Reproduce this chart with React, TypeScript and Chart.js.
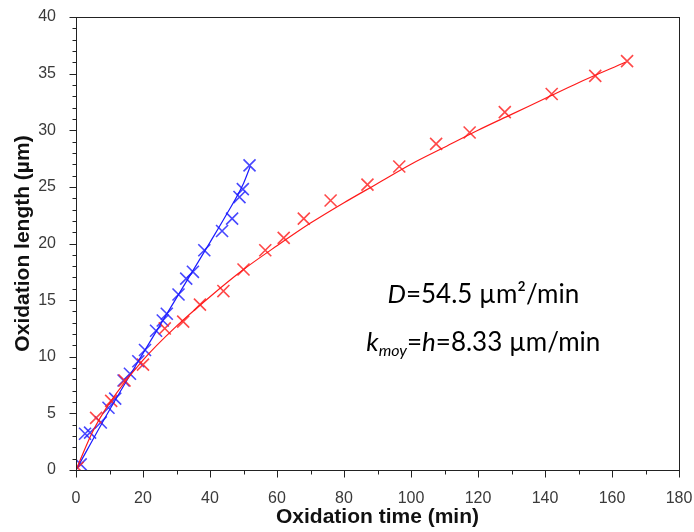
import React, { useEffect, useRef } from "react";
import { Chart, registerables } from "chart.js";

Chart.register(...registerables);

// Red series (measured points)
const redTime = [0.5, 6, 10.5, 14.5, 20, 26.5, 32, 37, 44, 50, 56.5, 62, 68, 76, 87, 96.5, 107.5, 117.5, 128, 142, 155, 164.5];
const redLength = [0.2, 4.6, 6.1, 7.9, 9.3, 12.5, 13.1, 14.6, 15.8, 17.7, 19.4, 20.5, 22.2, 23.8, 25.2, 26.8, 28.8, 29.8, 31.6, 33.2, 34.8, 36.1];

// Red fitted curve
const redFitTime = [0, 5, 10, 20, 30, 40, 50, 60, 70, 80, 90, 100, 110, 120, 130, 140, 150, 164];
const redFitLength = [0, 3.4, 5.9, 9.7, 12.7, 15.3, 17.7, 19.8, 21.8, 23.6, 25.3, 27.0, 28.5, 30.0, 31.4, 32.8, 34.2, 36.0];

// Blue series (measured points)
const blueTime = [1.4, 2.7, 4.2, 7.4, 9.7, 11.7, 14.2, 16.1, 18.6, 20.6, 23.9, 25.9, 27.1, 30.6, 32.9, 34.9, 38.3, 43.6, 46.6, 48.8, 49.8, 51.8];
const blueLength = [0.5, 3.2, 3.3, 4.2, 5.5, 6.3, 7.9, 8.5, 9.6, 10.6, 12.3, 13.2, 13.8, 15.5, 16.9, 17.5, 19.4, 21.1, 22.2, 24.1, 24.8, 26.9];

// Blue fitted line
const blueFitTime = [0, 10, 20, 30, 40, 45, 50, 52];
const blueFitLength = [0, 5.3, 10.3, 15.2, 20.1, 22.6, 25.3, 26.8];

// Axis ticks
const xTickValues = [0, 20, 40, 60, 80, 100, 120, 140, 160, 180];
const yTickValues = [0, 5, 10, 15, 20, 25, 30, 35, 40];
const xMinorStep = 10;
const yMinorStep = 1;

const xTitle = "Oxidation time (min)";
const yTitle = "Oxidation length (µm)";

const toXY = (xs: number[], ys: number[]) => xs.map((x, i) => ({ x, y: ys[i] }));

const framePlugin = {
  id: "frameTicks",
  afterDraw(chart: any) {
    const { ctx, chartArea } = chart;
    const xs = chart.scales.x;
    const ys = chart.scales.y;
    const L = Math.round(chartArea.left) + 0.5;
    const T = Math.round(chartArea.top) + 0.5;
    const R = Math.round(chartArea.right) + 0.5;
    const B = Math.round(chartArea.bottom) + 0.5;
    ctx.save();
    ctx.strokeStyle = "#222";
    ctx.lineWidth = 1;
    ctx.strokeRect(L, T, R - L, B - T);
    ctx.beginPath();
    const yMax = yTickValues[yTickValues.length - 1];
    for (let v = yTickValues[0]; v <= yMax + 1e-9; v += yMinorStep) {
      const major = yTickValues.includes(v);
      const py = Math.round(ys.getPixelForValue(v)) + 0.5;
      const len = major ? 7 : 4;
      ctx.moveTo(L, py);
      ctx.lineTo(L - len, py);
    }
    const xMax = xTickValues[xTickValues.length - 1];
    for (let v = xTickValues[0]; v <= xMax + 1e-9; v += xMinorStep) {
      const major = xTickValues.includes(v);
      const px = Math.round(xs.getPixelForValue(v)) + 0.5;
      const len = major ? 7 : 4;
      ctx.moveTo(px, B);
      ctx.lineTo(px, B + len);
    }
    ctx.stroke();
    ctx.restore();
  },
};

const annotationPlugin = {
  id: "annot",
  afterDraw(chart: any) {
    const { ctx } = chart;
    const xs = chart.scales.x;
    const ys = chart.scales.y;
    const cx = xs.getPixelForValue(121.6);
    const y1 = ys.getPixelForValue(14.75);
    const y2 = ys.getPixelForValue(10.5);
    const fam = "Lato, 'Noto Sans', sans-serif";
    const size = 26;
    ctx.save();
    ctx.fillStyle = "#000";
    ctx.textBaseline = "alphabetic";
    ctx.textAlign = "left";

    const drawSegs = (segs: { t: string; f: string; dy?: number }[], baseY: number) => {
      let total = 0;
      for (const s of segs) {
        ctx.font = s.f;
        total += ctx.measureText(s.t).width;
      }
      let x = cx - total / 2;
      for (const s of segs) {
        ctx.font = s.f;
        ctx.fillText(s.t, x, baseY + (s.dy || 0));
        x += ctx.measureText(s.t).width;
      }
    };

    const it = `italic ${size}px ${fam}`;
    const nm = `${size}px ${fam}`;
    const sub = `italic ${Math.round(size * 0.62)}px ${fam}`;
    drawSegs(
      [
        { t: "D", f: it },
        { t: "=54.5 µm²/min", f: nm },
      ],
      y1
    );
    drawSegs(
      [
        { t: "k", f: it },
        { t: "moy", f: sub, dy: 5 },
        { t: "=", f: nm },
        { t: "h", f: it },
        { t: "=8.33 µm/min", f: nm },
      ],
      y2
    );
    ctx.restore();
  },
};

export default function App() {
  const ref = useRef<HTMLCanvasElement | null>(null);
  useEffect(() => {
    if (!ref.current) return;
    const tickFont = { family: "'Liberation Sans', Arial, sans-serif", size: 16 };
    const titleFont = { family: "'Liberation Sans', Arial, sans-serif", size: 21, weight: "bold" as const };
    const chart = new Chart(ref.current, {
      type: "scatter",
      data: {
        datasets: [
          {
            type: "line",
            label: "red fit",
            data: toXY(redFitTime, redFitLength),
            borderColor: "#ff1a1a",
            borderWidth: 1.2,
            pointRadius: 0,
            tension: 0.4,
            cubicInterpolationMode: "monotone",
            fill: false,
          } as any,
          {
            type: "line",
            label: "blue fit",
            data: toXY(blueFitTime, blueFitLength),
            borderColor: "#1a1aff",
            borderWidth: 1.2,
            pointRadius: 0,
            tension: 0.4,
            cubicInterpolationMode: "monotone",
            fill: false,
          } as any,
          {
            label: "red",
            data: toXY(redTime, redLength),
            pointStyle: "crossRot",
            pointRadius: 8.5,
            pointBorderWidth: 1.6,
            borderColor: "rgba(255,40,40,0.85)",
            backgroundColor: "rgba(255,40,40,0.85)",
          },
          {
            label: "blue",
            data: toXY(blueTime, blueLength),
            pointStyle: "crossRot",
            pointRadius: 8.5,
            pointBorderWidth: 1.6,
            borderColor: "rgba(40,40,255,0.85)",
            backgroundColor: "rgba(40,40,255,0.85)",
          },
        ],
      },
      options: {
        animation: false,
        responsive: true,
        maintainAspectRatio: false,
        layout: { padding: { top: 17, right: 15, left: 0, bottom: 0 } },
        plugins: { legend: { display: false }, tooltip: { enabled: false } },
        scales: {
          x: {
            type: "linear",
            min: 0,
            max: 180,
            grid: { display: false },
            border: { display: false },
            ticks: {
              stepSize: 20,
              padding: 11,
              color: "#3a3a3a",
              font: tickFont,
              maxRotation: 0,
              autoSkip: false,
            },
            title: { display: true, text: xTitle, color: "#111", font: titleFont, padding: { top: 2, bottom: 2 } },
            afterFit: (s: any) => {
              s.height = 62;
              s.paddingLeft = 0;
              s.paddingRight = 0;
            },
          },
          y: {
            type: "linear",
            min: 0,
            max: 40,
            grid: { display: false },
            border: { display: false },
            ticks: { stepSize: 5, padding: 12, color: "#3a3a3a", font: tickFont, autoSkip: false },
            title: { display: true, text: yTitle, color: "#111", font: titleFont, padding: { top: 11, bottom: 4 } },
            afterFit: (s: any) => {
              s.width = 76;
              s.paddingTop = 0;
              s.paddingBottom = 0;
            },
          },
        },
      },
      plugins: [framePlugin, annotationPlugin],
    });
    return () => chart.destroy();
  }, []);
  return (
    <div style={{ position: "absolute", left: 0, top: 0, width: 694, height: 532, background: "#fff" }}>
      <canvas ref={ref} />
    </div>
  );
}
